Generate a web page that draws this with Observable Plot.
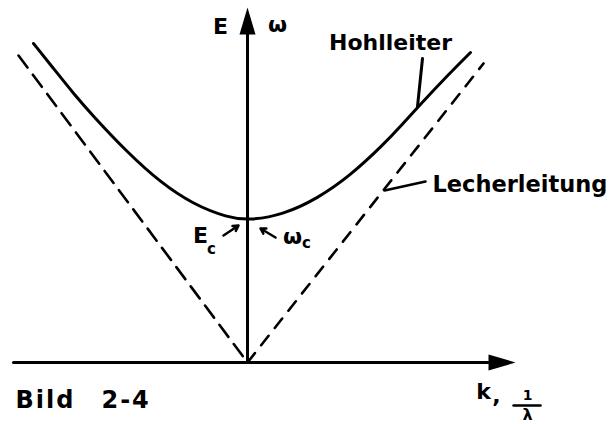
<!DOCTYPE html>
<html>
<head>
<meta charset="utf-8">
<script src="https://cdn.jsdelivr.net/npm/d3@7"></script>
<script src="https://cdn.jsdelivr.net/npm/@observablehq/plot@0.6"></script>
<style>
  html, body { margin: 0; padding: 0; background: #fff; }
  #chart svg { display: block; }
</style>
</head>
<body>
<div id="chart"></div>
<script>
// Hohlleiter dispersion curve (k, omega)
const curveK = [-2.14, -1.94, -1.74, -1.54, -1.20, -0.87, -0.54, -0.20, 0.02, 0.36, 0.70, 1.03, 1.36, 1.53, 1.70, 1.96, 2.23];
const curveW = [3.19, 2.94, 2.69, 2.46, 2.10, 1.80, 1.58, 1.45, 1.42, 1.48, 1.64, 1.87, 2.18, 2.36, 2.55, 2.83, 3.10];
// Lecherleitung asymptotes (dashed)
const lecherLeftK = [-2.29, 0];
const lecherLeftW = [3.07, 0];
const lecherRightK = [0, 2.36];
const lecherRightW = [0, 2.99];
// axes
const xAxisK = [-2.34, 2.45];
const yAxisW = [0, 3.30];
const xAxisTipK = 2.68;
const yAxisTipW = 3.55;
// labels
const labelTexts = ["E", "ω", "Hohlleiter", "E", "ω", "k", ","];
const labelK = [-0.27, 0.30, 1.43, -0.47, 0.45, 2.36, 2.49];
const labelW = [3.36, 3.38, 3.20, 1.27, 1.26, -0.29, -0.33];
const subTexts = ["c", "c"];
const subK = [-0.36, 0.59];
const subW = [1.13, 1.19];
const lecherLabel = "Lecherleitung";
const lecherLabelK = 1.85, lecherLabelW = 1.78;
const figLabel = "Bild\u20032-4";
const figLabelK = -2.32, figLabelW = -0.38;
const fracNum = "1", fracDen = "λ";
const fracK = 2.80, fracNumW = -0.33, fracDenW = -0.52;
const fracBarK = [2.66, 2.93], fracBarW = -0.43;
// pointer lines
const leaderHohlK = [1.75, 1.70], leaderHohlW = [3.04, 2.56];
const leaderLechK = [1.78, 1.37], leaderLechW = [1.81, 1.72];
const ptrK1 = [-0.24, 0.28], ptrW1 = [1.27, 1.25];
const ptrK2 = [-0.09, 0.13], ptrW2 = [1.37, 1.34];

const curve = curveK.map((k, i) => ({k, w: curveW[i]}));
const pts = (K, W) => K.map((k, i) => ({k, w: Array.isArray(W) ? W[i] : W}));
const labels = labelTexts.map((t, i) => ({t, k: labelK[i], w: labelW[i]}));
const subs = subTexts.map((t, i) => ({t, k: subK[i], w: subW[i]}));
const pointers = ptrK1.map((k, i) => ({x1: k, y1: ptrW1[i], x2: ptrK2[i], y2: ptrW2[i]}));

const headSymbol = {
  draw(ctx) {
    ctx.moveTo(0, 0);
    ctx.lineTo(-27, -8);
    ctx.lineTo(-27, 8);
    ctx.closePath();
  }
};

const font = "DejaVu Sans, sans-serif";

const plot = Plot.plot({
  width: 611,
  height: 424,
  margin: 0,
  x: {domain: [-2.47, 3.64], axis: null},
  y: {domain: [-0.62, 3.62], axis: null},
  style: {background: "#fff", overflow: "visible"},
  marks: [
    Plot.line(pts(xAxisK, [0, 0]), {x: "k", y: "w", stroke: "black", strokeWidth: 3}),
    Plot.line(pts([0, 0], yAxisW), {x: "k", y: "w", stroke: "black", strokeWidth: 3}),
    Plot.dot([{k: xAxisTipK, w: 0}], {x: "k", y: "w", symbol: headSymbol, fill: "black", r: 5, rotate: 0}),
    Plot.dot([{k: 0, w: yAxisTipW}], {x: "k", y: "w", symbol: headSymbol, fill: "black", r: 5, rotate: -90}),
    Plot.line(pts(lecherLeftK, lecherLeftW), {x: "k", y: "w", stroke: "black", strokeWidth: 2.6, strokeDasharray: "15,9"}),
    Plot.line(pts(lecherRightK, lecherRightW), {x: "k", y: "w", stroke: "black", strokeWidth: 2.6, strokeDasharray: "12,10"}),
    Plot.line(curve, {x: "k", y: "w", curve: "basis", stroke: "black", strokeWidth: 3}),
    Plot.line(pts(leaderHohlK, leaderHohlW), {x: "k", y: "w", stroke: "black", strokeWidth: 3}),
    Plot.line(pts(leaderLechK, leaderLechW), {x: "k", y: "w", stroke: "black", strokeWidth: 2.5}),
    Plot.arrow(pointers, {x1: "x1", y1: "y1", x2: "x2", y2: "y2", stroke: "black", strokeWidth: 2.5, headLength: 7}),
    Plot.text(labels, {x: "k", y: "w", text: "t", fontSize: 22, fontWeight: "bold", fontFamily: font, fill: "black"}),
    Plot.text(subs, {x: "k", y: "w", text: "t", fontSize: 15, fontWeight: "bold", fontFamily: font, fill: "black"}),
    Plot.text([{t: lecherLabel, k: lecherLabelK, w: lecherLabelW}], {x: "k", y: "w", text: "t", textAnchor: "start", fontSize: 22.5, fontWeight: "bold", fontFamily: font, fill: "black"}),
    Plot.text([{t: figLabel, k: figLabelK, w: figLabelW}], {x: "k", y: "w", text: "t", textAnchor: "start", fontSize: 24, fontWeight: "bold", fontFamily: font, fill: "black"}),
    Plot.text([{t: fracNum, k: fracK, w: fracNumW}], {x: "k", y: "w", text: "t", fontSize: 14, fontWeight: "bold", fontFamily: font, fill: "black"}),
    Plot.text([{t: fracDen, k: fracK, w: fracDenW}], {x: "k", y: "w", text: "t", fontSize: 16, fontWeight: "bold", fontFamily: font, fill: "black"}),
    Plot.line(pts(fracBarK, [fracBarW, fracBarW]), {x: "k", y: "w", stroke: "black", strokeWidth: 2.5})
  ]
});
d3.select(plot).selectAll("text")
  .filter(function() { return this.textContent === figLabel; })
  .attr("letter-spacing", 2);
document.getElementById("chart").appendChild(plot);
</script>
</body>
</html>
